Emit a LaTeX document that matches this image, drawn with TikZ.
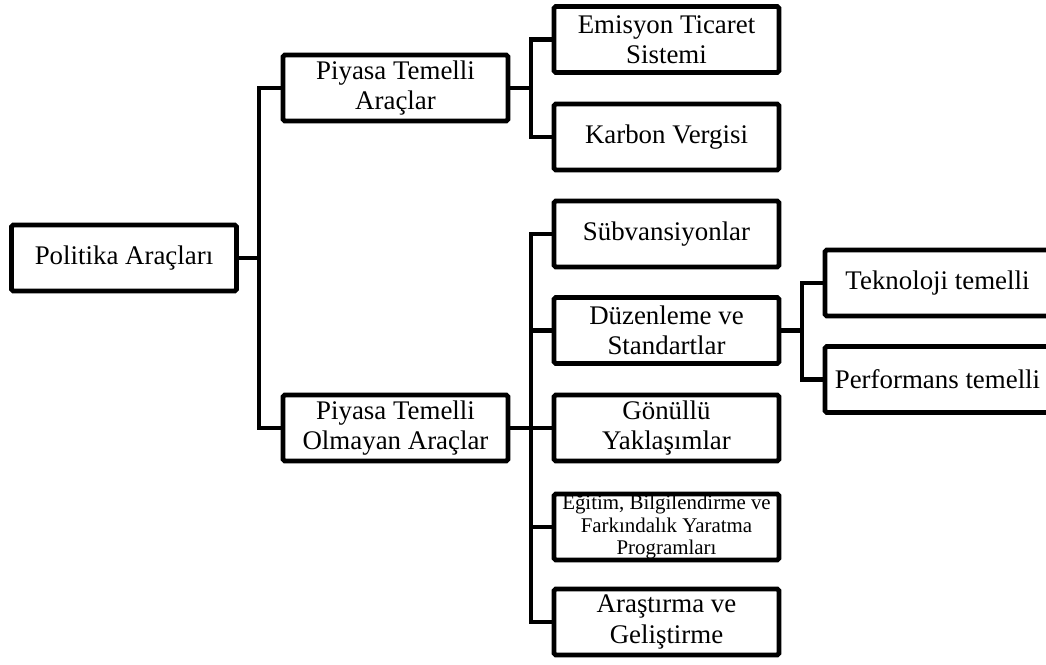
\documentclass[tikz,border=0pt]{standalone}
\usepackage{fontspec}
\setmainfont{Liberation Serif}
\usepackage{tikz}
\tikzstyle{box}=[draw, line width=2.7pt, rounded corners=1pt, minimum width=4.5cm, minimum height=1.32cm, inner sep=0pt, align=center, font=\fontsize{15.3}{17.3}\selectfont]
\tikzstyle{link}=[line width=2.7pt]

\begin{document}
\begin{tikzpicture}[x=0.02cm, y=-0.02cm]
    \useasboundingbox (0,0) rectangle (1046,664);
    \clip (0,0) rectangle (1046,664);
    % root
    \node[box] (pol) at (124,258) {Politika Araçları};
    % first level
    \node[box] (pta) at (395.5,88) {Piyasa Temelli\\Araçlar};
    \node[box] (pto) at (395.5,428) {Piyasa Temelli\\Olmayan Araçlar};
    % second level
    \node[box] (ets) at (666.5,39.5) {Emisyon Ticaret\\Sistemi};
    \node[box] (kv) at (666.5,137) {Karbon Vergisi};
    \node[box] (sub) at (666.5,234) {Sübvansiyonlar};
    \node[box] (dz) at (666.5,330.5) {Düzenleme ve\\Standartlar};
    \node[box] (gy) at (666.5,428) {Gönüllü\\Yaklaşımlar};
    \node[box, font=\fontsize{11.9}{12.6}\selectfont] (eg) at (666.5,527) {Eğitim, Bilgilendirme ve\\Farkındalık Yaratma\\Programları};
    \node[box] (ag) at (666.5,622) {Araştırma ve\\Geliştirme};
    % third level
    \node[box] (tt) at (937.5,283) {Teknoloji temelli};
    \node[box] (pt) at (937.5,379.5) {Performans temelli};

    % joints
    \coordinate (j1) at (259,258);
    \coordinate (j2) at (531,88);
    \coordinate (j3) at (531,428);
    \coordinate (j4) at (802,330.5);

    \draw [link] (pol) -- (j1);
    \draw [link] (pta.west) -| (j1);
    \draw [link] (pto.west) -| (j1);

    \draw [link] (pta) -- (j2);
    \draw [link] (ets.west) -| (j2);
    \draw [link] (kv.west) -| (j2);

    \draw [link] (pto) -- (j3);
    \foreach \n in {sub,dz,gy,eg,ag}
      \draw [link] (\n.west) -| (j3);

    \draw [link] (dz) -- (j4);
    \draw [link] (tt.west) -| (j4);
    \draw [link] (pt.west) -| (j4);
\end{tikzpicture}
\end{document}
